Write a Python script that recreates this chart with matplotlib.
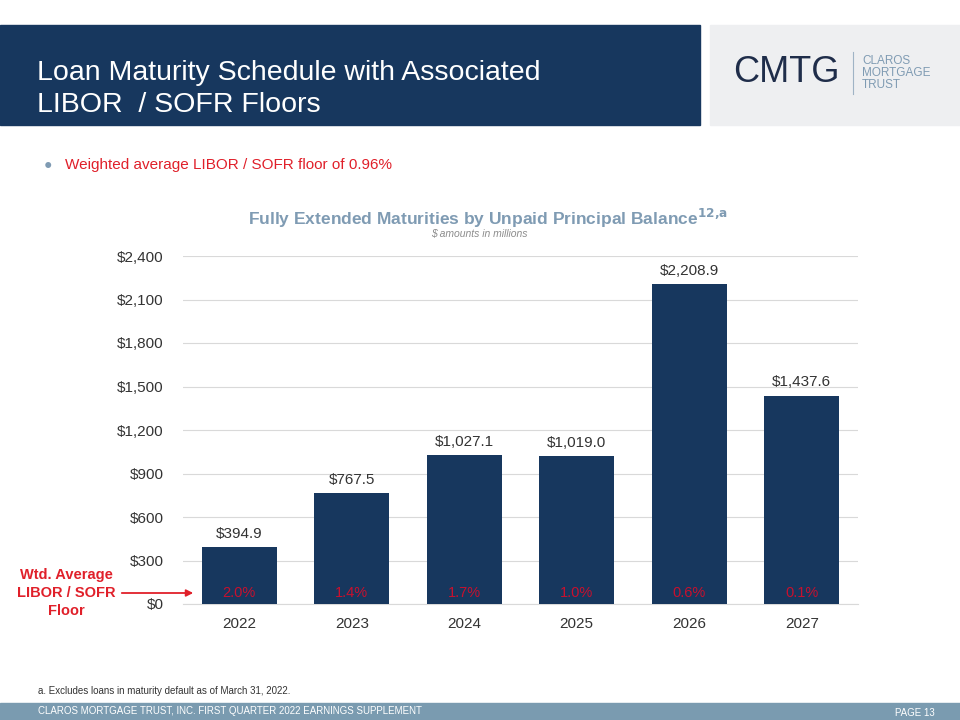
import matplotlib
matplotlib.use('Agg')
import matplotlib.pyplot as plt
from matplotlib.patches import Rectangle
from matplotlib.lines import Line2D

plt.rcParams['font.family'] = ['Liberation Sans', 'DejaVu Sans']

years = ['2022', '2023', '2024', '2025', '2026', '2027']
balances = [394.9, 767.5, 1027.1, 1019.0, 2208.9, 1437.6]
floors = ['2.0%', '1.4%', '1.7%', '1.0%', '0.6%', '0.1%']
yticks = [0, 300, 600, 900, 1200, 1500, 1800, 2100, 2400]

navy = '#17375E'
red = '#E0202A'
grey_blue = '#7F9BB3'

fig = plt.figure(figsize=(9.6, 7.2), dpi=100)

# header band
fig.patches.append(Rectangle((0, 1 - 125/720), 700/960, 100/720, transform=fig.transFigure,
                             color=navy, zorder=0))
fig.patches.append(Rectangle((710/960, 1 - 125/720), 250/960, 100/720, transform=fig.transFigure,
                             color='#EEEFF1', zorder=0))
fig.text(37/960, 1 - 89/720, 'Loan Maturity Schedule with Associated\nLIBOR  / SOFR Floors',
         color='white', fontsize=20.5, va='center', ha='left', linespacing=1.25)

# logo
fig.text(733/960, 1 - 73/720, 'CMTG', color='#1F2D4A', fontsize=26, va='center', ha='left')
fig.lines.append(Line2D([853/960, 853/960], [1 - 52/720, 1 - 94/720], transform=fig.transFigure,
                        color='#9FB3C5', lw=0.8))
fig.text(862/960, 1 - 73/720, 'CLAROS\nMORTGAGE\nTRUST', color='#7F9BB3', fontsize=8.5,
         va='center', ha='left', linespacing=1.0)

# bullet
fig.text(48/960, 1 - 165/720, '\u25CF', color='#7F9BB3', fontsize=10, va='center', ha='center')
fig.text(65/960, 1 - 165/720, 'Weighted average LIBOR / SOFR floor of 0.96%', color=red,
         fontsize=11, va='center', ha='left')

# chart title
fig.text(488/960, 1 - 218/720,
         r'Fully Extended Maturities by Unpaid Principal Balance$^{\mathbf{12{,}a}}$',
         color=grey_blue, fontsize=12.5, fontweight='bold', va='center', ha='center')
fig.text(479/960, 1 - 234/720, '$ amounts in millions', color='#8C8C8C', fontsize=7.5,
         style='italic', va='center', ha='center')

ax = fig.add_axes([183/960, 1 - 604/720, 675/960, 348/720])
x = list(range(len(years)))
ax.bar(x, balances, width=0.67, color=navy, zorder=3)
for i, v in enumerate(balances):
    ax.text(i, v + 90, '${:,.1f}'.format(v), ha='center', va='center', fontsize=11, color='#333333')
    ax.text(i, 75, floors[i], ha='center', va='center', fontsize=10.5, color='#C8102E', zorder=4)

ax.set_xlim(-0.5, 5.5)
ax.set_ylim(0, 2400)
ax.set_yticks(yticks)
ax.set_yticklabels(['${:,}'.format(t) for t in yticks])
ax.set_xticks(x)
ax.set_xticklabels(years)
ax.tick_params(axis='both', length=0, labelsize=11, labelcolor='#333333')
ax.tick_params(axis='y', pad=14)
ax.tick_params(axis='x', pad=9)
ax.grid(axis='y', color='#D9D9D9', lw=0.8, zorder=0)
for s in ['top', 'right', 'left']:
    ax.spines[s].set_visible(False)
ax.spines['bottom'].set_color('#D9D9D9')
ax.set_facecolor('none')

# annotation
fig.text(66/960, 1 - 593/720, 'Wtd. Average\nLIBOR / SOFR\nFloor', color=red, fontsize=10.5,
         fontweight='bold', ha='center', va='center', linespacing=1.35)
ax.annotate('', xy=(196/960, 1 - 593/720), xytext=(119/960, 1 - 593/720),
            xycoords='figure fraction', textcoords='figure fraction',
            arrowprops=dict(arrowstyle='-|>', color=red, lw=1.3, mutation_scale=10))

# footnote and footer
fig.text(38/960, 1 - 691/720, 'a. Excludes loans in maturity default as of March 31, 2022.',
         color='#333333', fontsize=7, va='center', ha='left')
fig.patches.append(Rectangle((0, 0), 1, 17/720, transform=fig.transFigure, color='#7A9BB0', zorder=0))
fig.text(38/960, 9/720, 'CLAROS MORTGAGE TRUST, INC. FIRST QUARTER 2022 EARNINGS SUPPLEMENT',
         color='white', fontsize=7, va='center', ha='left')
fig.text(935/960, 7/720, 'PAGE 13', color='white', fontsize=7, va='center', ha='right')

fig.savefig('out.png', dpi=100)
